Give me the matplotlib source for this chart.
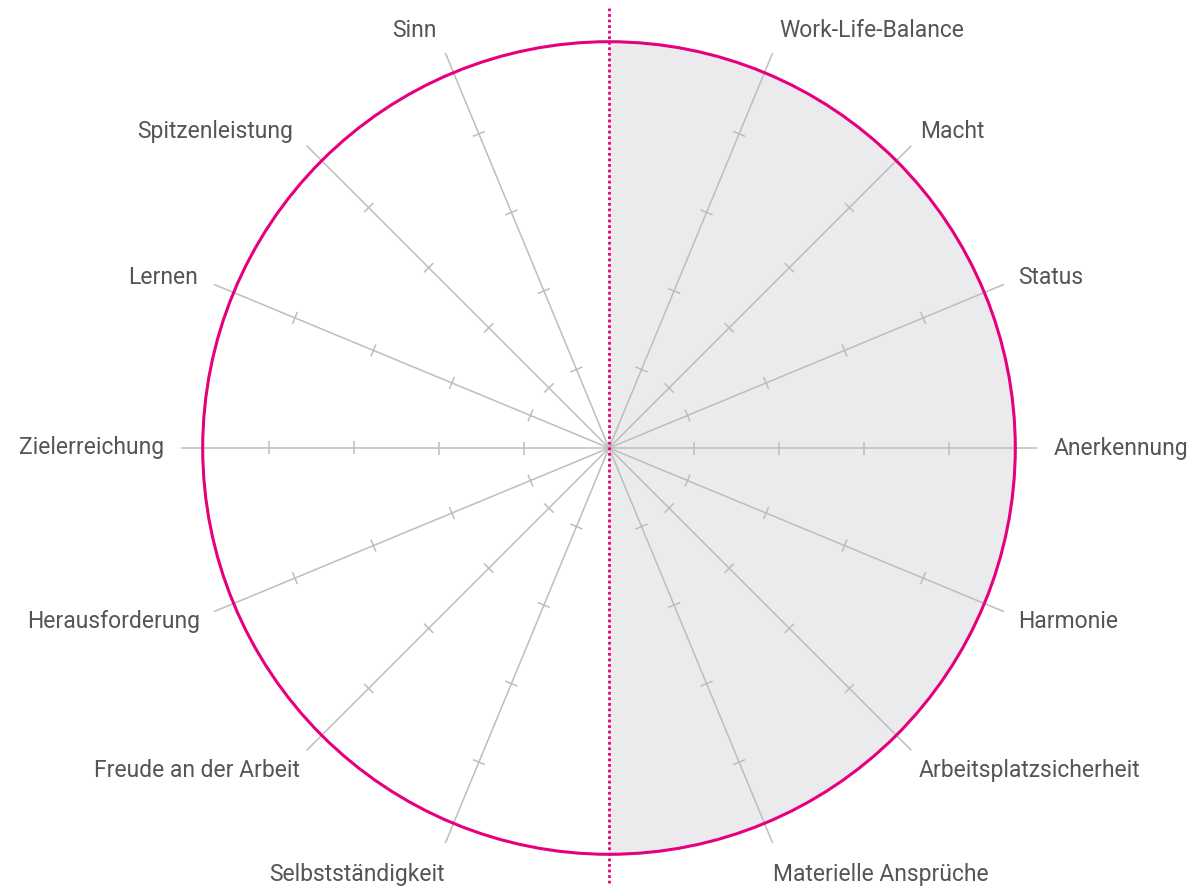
import numpy as np
import matplotlib
matplotlib.use('Agg')
import matplotlib.pyplot as plt
from matplotlib.patches import Circle, Wedge

# spoke labels, counter-clockwise starting at 3 o'clock (0 deg)
labels = ['Anerkennung', 'Status', 'Macht', 'Work-Life-Balance',
          'Sinn', 'Spitzenleistung', 'Lernen', 'Zielerreichung',
          'Herausforderung', 'Freude an der Arbeit', 'Selbstständigkeit',
          'Materielle Ansprüche', 'Arbeitsplatzsicherheit', 'Harmonie']
angles = [0, 22.5, 45, 67.5, 112.5, 135, 157.5, 180,
          202.5, 225, 247.5, 292.5, 315, 337.5]
scale_ticks = [1, 2, 3, 4]
circle_value = 4.78
spoke_value = 5.03

# colors
pink = '#e6007e'
grey_line = '#bdbdbd'
shade = '#ebebee'
text_col = '#555555'

plt.rcParams['font.family'] = ['Roboto', 'DejaVu Sans']

fig = plt.figure(figsize=(11.93, 8.90), dpi=100)
ax = fig.add_axes([0, 0, 1, 1])
# one data unit = one pixel, centre of the chart at (0, 0)
cx, cy = 609, 448
ax.set_xlim(-cx, 1193 - cx)
ax.set_ylim(-(890 - cy), cy)
ax.axis('off')

u = 85.0  # pixels per scale step
R = circle_value * u

# shaded right half
ax.add_patch(Wedge((0, 0), R, -90, 90, facecolor=shade, edgecolor='none', zorder=0))

# spokes with tick marks
tick_half = 6.5
for ang in angles:
    t = np.deg2rad(ang)
    dx, dy = np.cos(t), np.sin(t)
    ax.plot([0, spoke_value * u * dx], [0, spoke_value * u * dy],
            color=grey_line, lw=1.1, zorder=1, solid_capstyle='butt')
    px, py = -dy, dx
    for v in scale_ticks:
        x0, y0 = v * u * dx, v * u * dy
        ax.plot([x0 - tick_half * px, x0 + tick_half * px],
                [y0 - tick_half * py, y0 + tick_half * py],
                color=grey_line, lw=1.1, zorder=1, solid_capstyle='butt')

# outer circle
ax.add_patch(Circle((0, 0), R, facecolor='none', edgecolor=pink, lw=2.2, zorder=3))

# dotted vertical divider
ax.plot([0, 0], [440, -437], color=pink, lw=2.0, linestyle=(0, (1, 1)), zorder=4)

# labels
for lab, ang in zip(labels, angles):
    t = np.deg2rad(ang)
    s = abs(np.sin(t))
    lower = np.sin(t) < -0.01
    right = np.cos(t) > 0
    rl = 445 + 9 * s ** 4
    x, y = rl * np.cos(t), rl * np.sin(t)
    inward = 0.0
    if right or lower:
        inward = 5 * np.sin(2 * t) ** 2 + (8 * s ** 4 if lower else 0)
    x -= np.sign(np.cos(t)) * inward
    if lower:
        y -= 3 + 8 * s ** 3
    ha = 'left' if right else 'right'
    ax.text(x, y, lab, ha=ha, va='center', fontsize=16.5, color=text_col)

fig.savefig('out.png', dpi=100)
